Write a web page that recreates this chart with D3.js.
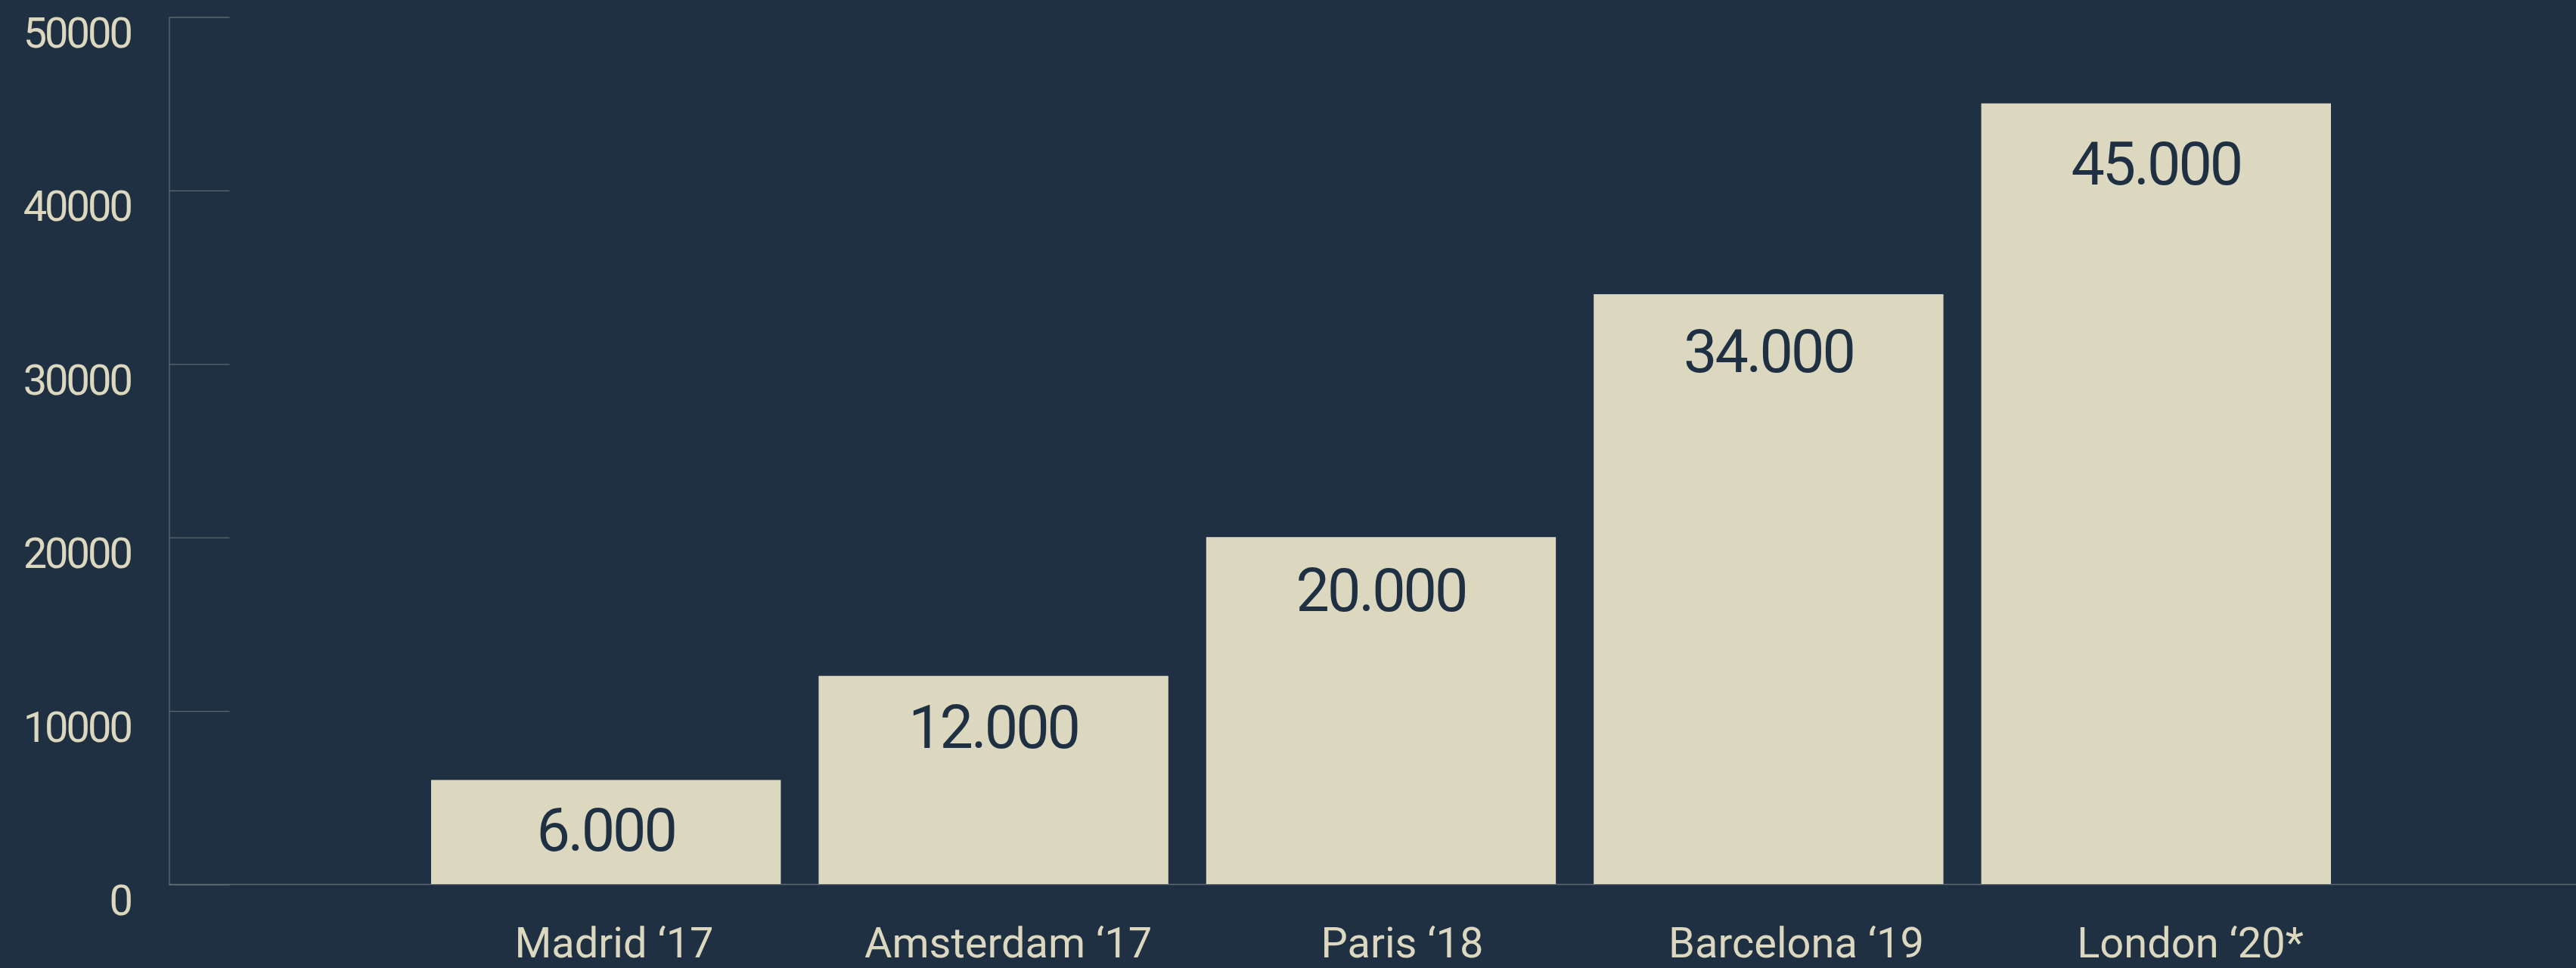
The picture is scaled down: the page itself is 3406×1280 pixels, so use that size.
<!DOCTYPE html>
<html>
<head>
<meta charset="utf-8">
<script src="https://cdn.jsdelivr.net/npm/d3@7"></script>
<style>
  html, body { margin: 0; padding: 0; background: #1e3042; overflow: hidden; }
  svg { display: block; }
</style>
</head>
<body>
<script>
// ---- Data ----
const categories = ["Madrid ‘17", "Amsterdam ‘17", "Paris ‘18", "Barcelona ‘19", "London ‘20*"];
const visitors = [6000, 12000, 20000, 34000, 45000];
const valueLabels = ["6.000", "12.000", "20.000", "34.000", "45.000"];
const yTickValues = [0, 10000, 20000, 30000, 40000, 50000];
const yTickLabels = ["0", "10000", "20000", "30000", "40000", "50000"];

// ---- Layout ----
const W = 3406, H = 1280;
const BG = "#1e3042", BAR = "#dcd8c0", GRID = "#5d6873", FONT = "Roboto, 'Open Sans', sans-serif";

const svg = d3.select("body").append("svg").attr("width", W).attr("height", H);
svg.append("rect").attr("width", W).attr("height", H).attr("fill", BG);

const y = d3.scaleLinear().domain([0, 50000]).range([1169, 22]);
const labelY = d3.scaleLinear().domain([0, 50000]).range([1260, 131]);
const x = d3.scaleBand().domain(categories).range([570, 3082]).paddingInner(0.0976).paddingOuter(0);
const xLabel = d3.scalePoint().domain(categories).range([812, 2896]);
const axisX = 223;

// baseline
svg.append("line")
  .attr("x1", axisX).attr("x2", W)
  .attr("y1", y(0) + 0.5).attr("y2", y(0) + 0.5)
  .attr("stroke", GRID).attr("stroke-width", 1.5);

// y axis with inward ticks
const yAxis = d3.axisRight(y).tickValues(yTickValues).tickSize(80).tickSizeOuter(0).tickFormat("");
const gy = svg.append("g").attr("transform", `translate(${axisX + 0.5},0.5)`).call(yAxis);
gy.selectAll("line").attr("stroke", GRID).attr("stroke-width", 1.3);
gy.select(".domain").attr("stroke", GRID).attr("stroke-width", 1.3);

// y tick labels (hang below each tick)
svg.append("g").selectAll("text").data(yTickValues).join("text")
  .attr("x", 173)
  .attr("y", d => y(d) + 41)
  .attr("text-anchor", "end")
  .attr("fill", BAR)
  .attr("font-family", FONT)
  .attr("font-size", 56)
  .attr("letter-spacing", "-3px")
  .text((d, i) => yTickLabels[i]);

// bars
svg.append("g").selectAll("rect").data(visitors).join("rect")
  .attr("x", (d, i) => x(categories[i]))
  .attr("y", d => y(d))
  .attr("width", x.bandwidth())
  .attr("height", d => y(0) - y(d))
  .attr("fill", BAR);

// value labels inside bars
svg.append("g").selectAll("text").data(visitors).join("text")
  .attr("x", (d, i) => x(categories[i]) + x.bandwidth() / 2)
  .attr("y", d => labelY(d))
  .attr("text-anchor", "middle")
  .attr("fill", BG)
  .attr("font-family", FONT)
  .attr("font-size", 79)
  .attr("letter-spacing", "-3px")
  .text((d, i) => valueLabels[i]);

// category labels
svg.append("g").selectAll("text").data(categories).join("text")
  .attr("x", d => xLabel(d))
  .attr("y", 1266)
  .attr("text-anchor", "middle")
  .attr("fill", BAR)
  .attr("font-family", FONT)
  .attr("font-size", 56)
  .text(d => d);
</script>
</body>
</html>
